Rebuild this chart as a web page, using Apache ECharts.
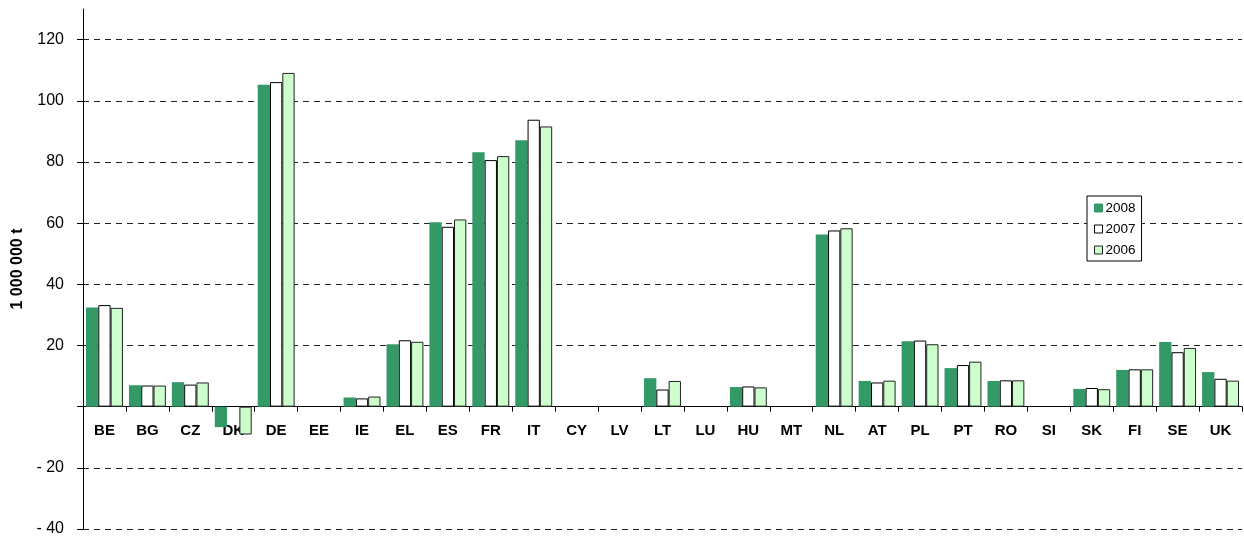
<!DOCTYPE html>
<html>
<head>
<meta charset="utf-8">
<script src="https://cdn.jsdelivr.net/npm/echarts@6/dist/echarts.min.js"></script>
<style>
    html, body { margin: 0; padding: 0; background: #fff; }
    #chart { width: 1244px; height: 537px; }
</style>
</head>
<body>
<div id="chart"></div>
<script>
    var countries = ['BE', 'BG', 'CZ', 'DK', 'DE', 'EE', 'IE', 'EL', 'ES', 'FR', 'IT', 'CY', 'LV', 'LT',
        'LU', 'HU', 'MT', 'NL', 'AT', 'PL', 'PT', 'RO', 'SI', 'SK', 'FI', 'SE', 'UK'];
    var y2008 = [32.4, 7.0, 8.0, -6.7, 105.2, null, 3.0, 20.4, 60.3, 83.2, 87.1, null, null, 9.3,
        null, 6.4, null, 56.3, 8.4, 21.4, 12.6, 8.4, null, 5.8, 12.0, 21.1, 11.3];
    var y2007 = [33.2, 6.9, 7.2, null, 106.1, null, 2.7, 21.7, 58.8, 80.6, 93.8, null, null, 5.6,
        null, 6.6, null, 57.6, 7.9, 21.6, 13.6, 8.6, null, 6.1, 12.2, 17.8, 9.1];
    var y2006 = [32.3, 6.9, 7.9, -9.1, 109.1, null, 3.3, 21.2, 61.2, 81.9, 91.6, null, null, 8.4,
        null, 6.3, null, 58.3, 8.5, 20.4, 14.7, 8.6, null, 5.7, 12.2, 19.2, 8.5];

    var chart = echarts.init(document.getElementById('chart'));
    var font = '"Liberation Sans", Arial, sans-serif';

    var option = {
        animation: false,
        textStyle: { fontFamily: font },
        grid: { left: 83, right: 2, top: 9, bottom: 8, containLabel: false, outerBoundsMode: 'none' },
        legend: {
            orient: 'vertical',
            left: 1087,
            top: 196,
            backgroundColor: '#fff',
            borderColor: '#000',
            borderWidth: 1,
            padding: [5, 6, 4, 7],
            itemWidth: 8,
            itemHeight: 8,
            itemGap: 7,
            icon: 'rect',
            itemStyle: { borderWidth: 1 },
            textStyle: { fontSize: 13.5, color: '#000', fontFamily: font, lineHeight: 14, padding: [0, 0, 0, -2] },
            data: ['2008', '2007', '2006']
        },
        xAxis: [
            {
                // axis line and ticks sitting on zero
                type: 'category',
                data: countries,
                axisLine: { onZero: true, lineStyle: { color: '#000', width: 1 } },
                axisTick: { show: true, length: 5, lineStyle: { color: '#000' } },
                axisLabel: { show: false },
                splitLine: { show: false }
            },
            {
                // labels only, shifted up under the zero line
                type: 'category',
                data: countries,
                position: 'bottom',
                offset: -122,
                axisLine: { show: false, onZero: false },
                axisTick: { show: false },
                axisLabel: { margin: 16, fontSize: 15, fontWeight: 'bold', color: '#000', fontFamily: font, interval: 0 },
                splitLine: { show: false }
            }
        ],
        yAxis: {
            type: 'value',
            min: -40,
            max: 130,
            interval: 20,
            name: '1 000 000 t',
            nameLocation: 'middle',
            nameGap: 57,
            nameTextStyle: { fontSize: 16, fontWeight: 'bold', color: '#000', fontFamily: font },
            axisLine: { show: true, onZero: false, lineStyle: { color: '#000', width: 1 } },
            axisTick: { show: true, inside: false, length: 6, lineStyle: { color: '#000' } },
            axisLabel: {
                margin: 19,
                fontSize: 16,
                color: '#000',
                fontFamily: font,
                showMaxLabel: false,
                formatter: function (v) {
                    if (v === 0 || v > 120) return '';
                    return v < 0 ? '- ' + Math.abs(v) : String(v);
                }
            },
            splitLine: {
                show: true,
                showMaxLine: false,
                lineStyle: { color: '#222', width: 1, type: [6, 5] }
            }
        },
        series: [
            {
                name: '2008',
                type: 'bar',
                data: y2008,
                barGap: 0,
                barCategoryGap: '14%',
                itemStyle: { color: '#339966', borderColor: '#339966', borderWidth: 0 }
            },
            {
                name: '2007',
                type: 'bar',
                data: y2007,
                barGap: 0,
                barCategoryGap: '14%',
                itemStyle: { color: '#ffffff', borderColor: '#000', borderWidth: 1 }
            },
            {
                name: '2006',
                type: 'bar',
                data: y2006,
                barGap: 0,
                barCategoryGap: '14%',
                itemStyle: { color: '#ccffcc', borderColor: '#222', borderWidth: 1 }
            }
        ]
    };
    chart.setOption(option);
</script>
</body>
</html>
